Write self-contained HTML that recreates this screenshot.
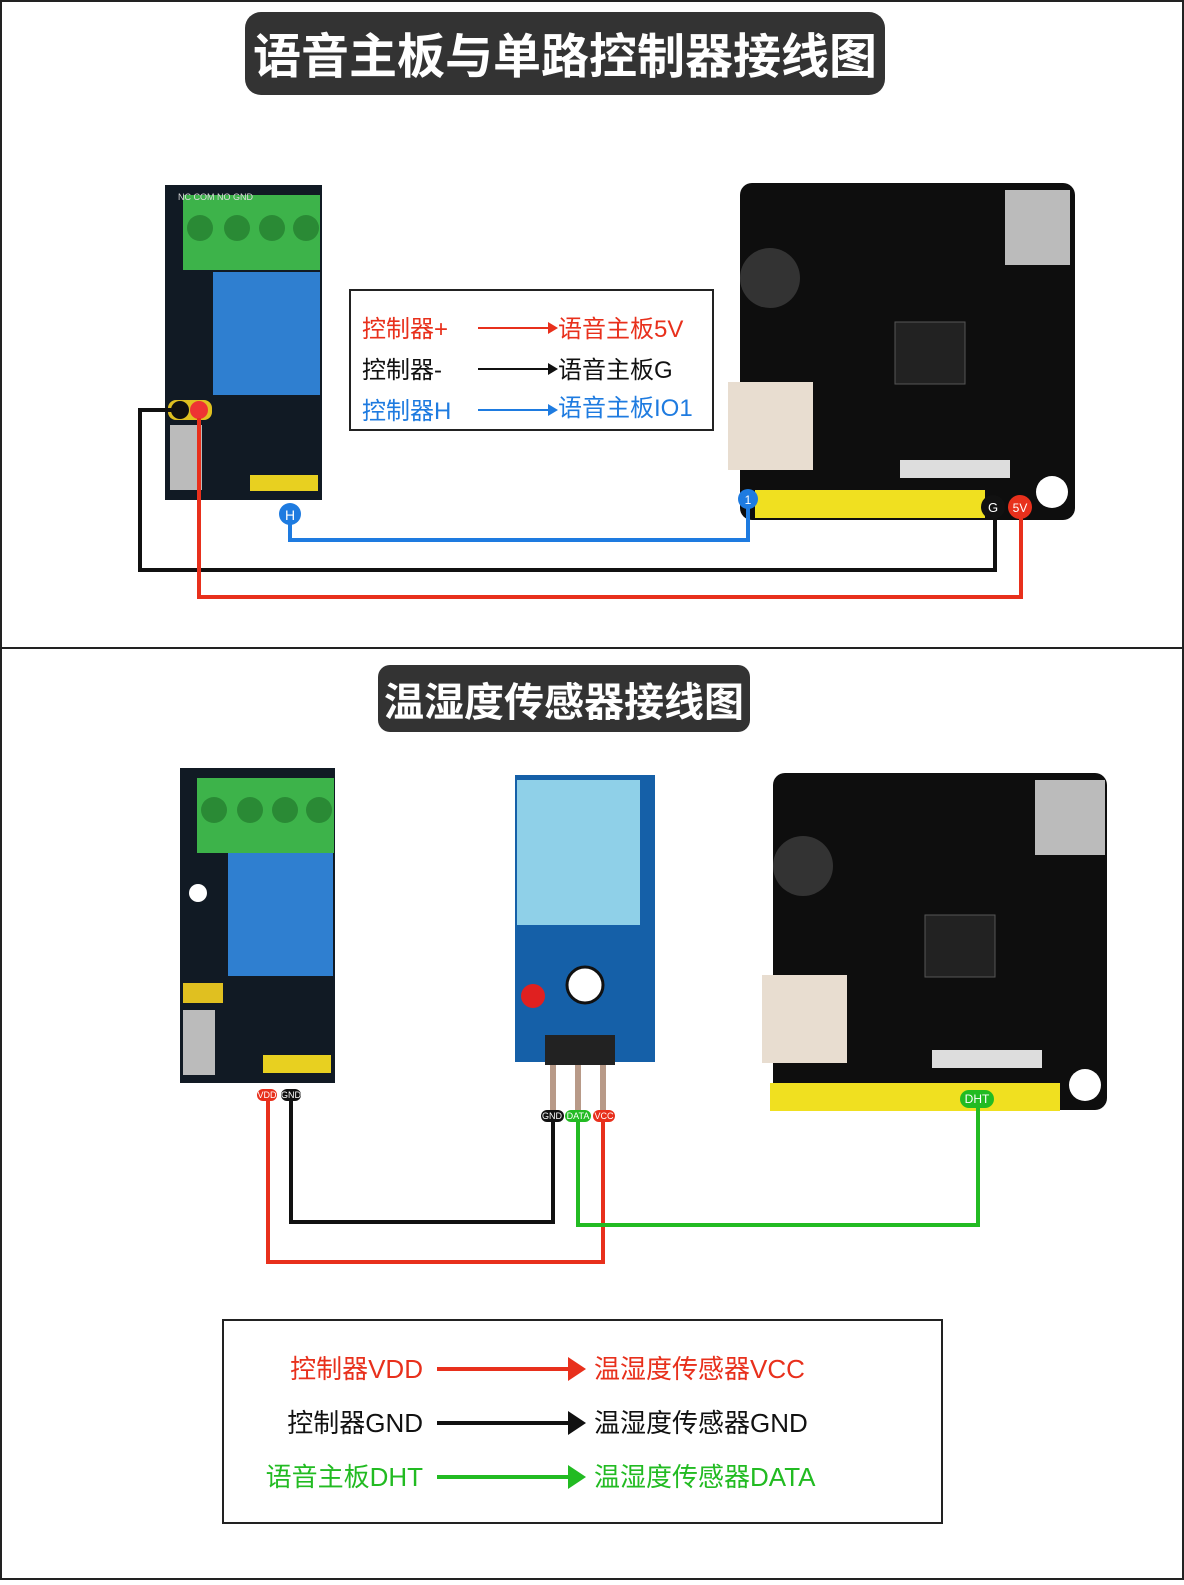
<!DOCTYPE html>
<html><head><meta charset="utf-8"><style>
body{margin:0;background:#fff;}
svg text{font-family:"Liberation Sans","Noto Sans CJK SC",sans-serif;}
</style></head><body>
<svg width="1184" height="1580" viewBox="0 0 1184 1580" xmlns="http://www.w3.org/2000/svg">
<rect x="1" y="1" width="1182" height="1578" fill="#fff" stroke="#222" stroke-width="2"/>
<line x1="0" y1="648" x2="1184" y2="648" stroke="#222" stroke-width="2"/>
<!-- titles -->
<rect x="245" y="12" width="640" height="83" rx="16" fill="#333"/>
<text x="565" y="73" font-size="48" font-weight="bold" fill="#fff" text-anchor="middle" font-family="Noto Sans CJK SC">语音主板与单路控制器接线图</text>
<rect x="378" y="665" width="372" height="67" rx="12" fill="#333"/>
<text x="564" y="716" font-size="40" font-weight="bold" fill="#fff" text-anchor="middle" font-family="Noto Sans CJK SC">温湿度传感器接线图</text>

<!-- relay 1 -->
<g>
<rect x="165" y="185" width="157" height="315" fill="#111a24"/>
<rect x="183" y="195" width="137" height="75" fill="#3db34a"/>
<circle cx="200" cy="228" r="13" fill="#2a8a35"/><circle cx="237" cy="228" r="13" fill="#2a8a35"/><circle cx="272" cy="228" r="13" fill="#2a8a35"/><circle cx="306" cy="228" r="13" fill="#2a8a35"/>
<rect x="213" y="272" width="107" height="123" fill="#2f7fd0"/>
<rect x="170" y="425" width="32" height="65" fill="#bbb"/>
<rect x="168" y="400" width="44" height="20" rx="8" fill="#e0c020"/>
<circle cx="180" cy="410" r="9" fill="#111"/><circle cx="199" cy="410" r="9" fill="#e33"/>
<rect x="250" y="475" width="68" height="16" fill="#e8d020"/>
<text x="178" y="200" font-size="9" fill="#ddd">NC  COM  NO  GND</text>
</g>
<!-- main board 1 -->
<g>
<rect x="740" y="183" width="335" height="337" rx="12" fill="#0e0e0e"/>
<circle cx="770" cy="278" r="30" fill="#333"/>
<rect x="895" y="322" width="70" height="62" fill="#222" stroke="#555"/>
<rect x="1005" y="190" width="65" height="75" fill="#bbb"/>
<rect x="728" y="382" width="85" height="88" fill="#e8ddd0"/>
<rect x="900" y="460" width="110" height="18" fill="#ddd"/>
<circle cx="1052" cy="492" r="16" fill="#fff"/>
<rect x="755" y="490" width="230" height="28" fill="#f0e020"/>
</g>
<!-- legend 1 -->
<rect x="350" y="290" width="363" height="140" fill="#fff" stroke="#222" stroke-width="2"/>
<g font-size="24" font-family="Noto Sans CJK SC">
<text x="362" y="337" fill="#e8301c">控制器+</text><line x1="478" y1="328" x2="548" y2="328" stroke="#e8301c" stroke-width="2"/><polygon points="548,322 558,328 548,334" fill="#e8301c"/><text x="558" y="337" fill="#e8301c">语音主板5V</text>
<text x="362" y="378" fill="#111">控制器-</text><line x1="478" y1="369" x2="548" y2="369" stroke="#111" stroke-width="2"/><polygon points="548,363 558,369 548,375" fill="#111"/><text x="558" y="378" fill="#111">语音主板G</text>
<text x="362" y="419" fill="#1e7be0">控制器H</text><line x1="478" y1="410" x2="548" y2="410" stroke="#1e7be0" stroke-width="2"/><polygon points="548,404 558,410 548,416" fill="#1e7be0"/><text x="558" y="416" fill="#1e7be0">语音主板IO1</text>
</g>
<!-- wires 1 -->
<g fill="none" stroke-width="4">
<path d="M290,520 V540 H748 V505" stroke="#1e7be0"/>
<path d="M172,410 H140 V570 H995 V512" stroke="#111"/>
<path d="M199,418 V597 H1021 V512" stroke="#e8301c"/>
</g>
<circle cx="290" cy="514" r="11" fill="#1e7be0"/><text x="290" y="520" font-size="14" fill="#fff" text-anchor="middle">H</text>
<circle cx="748" cy="499" r="10" fill="#1e7be0"/><text x="748" y="504" font-size="12" fill="#fff" text-anchor="middle">1</text>
<circle cx="993" cy="507" r="12" fill="#111"/><text x="993" y="512" font-size="13" fill="#fff" text-anchor="middle">G</text>
<circle cx="1020" cy="507" r="12" fill="#e8301c"/><text x="1020" y="512" font-size="12" fill="#fff" text-anchor="middle">5V</text>

<!-- relay 2 -->
<g>
<rect x="180" y="768" width="155" height="315" fill="#111a24"/>
<rect x="197" y="778" width="137" height="75" fill="#3db34a"/>
<circle cx="214" cy="810" r="13" fill="#2a8a35"/><circle cx="250" cy="810" r="13" fill="#2a8a35"/><circle cx="285" cy="810" r="13" fill="#2a8a35"/><circle cx="319" cy="810" r="13" fill="#2a8a35"/>
<rect x="228" y="853" width="105" height="123" fill="#2f7fd0"/>
<circle cx="198" cy="893" r="9" fill="#fff"/>
<rect x="183" y="983" width="40" height="20" fill="#e0c020"/>
<rect x="183" y="1010" width="32" height="65" fill="#bbb"/>
<rect x="263" y="1055" width="68" height="18" fill="#e8d020"/>
</g>
<!-- DHT -->
<g>
<rect x="515" y="775" width="140" height="287" fill="#1560a8"/>
<rect x="517" y="780" width="123" height="145" fill="#8fd0e8"/>
<circle cx="533" cy="996" r="12" fill="#e02020"/>
<circle cx="585" cy="985" r="18" fill="#fff" stroke="#111" stroke-width="3"/>
<rect x="545" y="1035" width="70" height="30" fill="#222"/>
<rect x="550" y="1065" width="6" height="48" fill="#b89a88"/><rect x="575" y="1065" width="6" height="48" fill="#b89a88"/><rect x="600" y="1065" width="6" height="48" fill="#b89a88"/>
</g>
<!-- main board 2 -->
<g>
<rect x="773" y="773" width="334" height="337" rx="12" fill="#0e0e0e"/>
<circle cx="803" cy="866" r="30" fill="#333"/>
<rect x="925" y="915" width="70" height="62" fill="#222" stroke="#555"/>
<rect x="1035" y="780" width="70" height="75" fill="#bbb"/>
<rect x="762" y="975" width="85" height="88" fill="#e8ddd0"/>
<rect x="932" y="1050" width="110" height="18" fill="#ddd"/>
<circle cx="1085" cy="1085" r="16" fill="#fff"/>
<rect x="770" y="1083" width="290" height="28" fill="#f0e020"/>
</g>
<!-- wires 2 -->
<g fill="none" stroke-width="4">
<path d="M268,1100 V1262 H603 V1120" stroke="#e8301c"/>
<path d="M291,1100 V1222 H553 V1120" stroke="#111"/>
<path d="M578,1120 V1225 H978 V1102" stroke="#22bb22"/>
</g>
<g font-size="9" text-anchor="middle" fill="#fff">
<rect x="257" y="1089" width="20" height="12" rx="6" fill="#e8301c"/><text x="267" y="1098">VDD</text>
<rect x="281" y="1089" width="20" height="12" rx="6" fill="#111"/><text x="291" y="1098">GND</text>
<rect x="541" y="1110" width="23" height="12" rx="6" fill="#111"/><text x="552" y="1119">GND</text>
<rect x="565" y="1110" width="26" height="12" rx="6" fill="#22bb22"/><text x="578" y="1119">DATA</text>
<rect x="593" y="1110" width="22" height="12" rx="6" fill="#e8301c"/><text x="604" y="1119">VCC</text>
<rect x="960" y="1090" width="34" height="18" rx="9" fill="#22bb22"/><text x="977" y="1103" font-size="12">DHT</text>
</g>
<!-- legend 2 -->
<rect x="223" y="1320" width="719" height="203" fill="#fff" stroke="#222" stroke-width="2"/>
<g font-size="26" font-family="Noto Sans CJK SC">
<text x="423" y="1378" fill="#e8301c" text-anchor="end">控制器VDD</text><line x1="437" y1="1369" x2="570" y2="1369" stroke="#e8301c" stroke-width="4"/><polygon points="568,1357 586,1369 568,1381" fill="#e8301c"/><text x="594" y="1378" fill="#e8301c">温湿度传感器VCC</text>
<text x="423" y="1432" fill="#111" text-anchor="end">控制器GND</text><line x1="437" y1="1423" x2="570" y2="1423" stroke="#111" stroke-width="4"/><polygon points="568,1411 586,1423 568,1435" fill="#111"/><text x="594" y="1432" fill="#111">温湿度传感器GND</text>
<text x="423" y="1486" fill="#22bb22" text-anchor="end">语音主板DHT</text><line x1="437" y1="1477" x2="570" y2="1477" stroke="#22bb22" stroke-width="4"/><polygon points="568,1465 586,1477 568,1489" fill="#22bb22"/><text x="594" y="1486" fill="#22bb22">温湿度传感器DATA</text>
</g>
</svg>
</body></html>
